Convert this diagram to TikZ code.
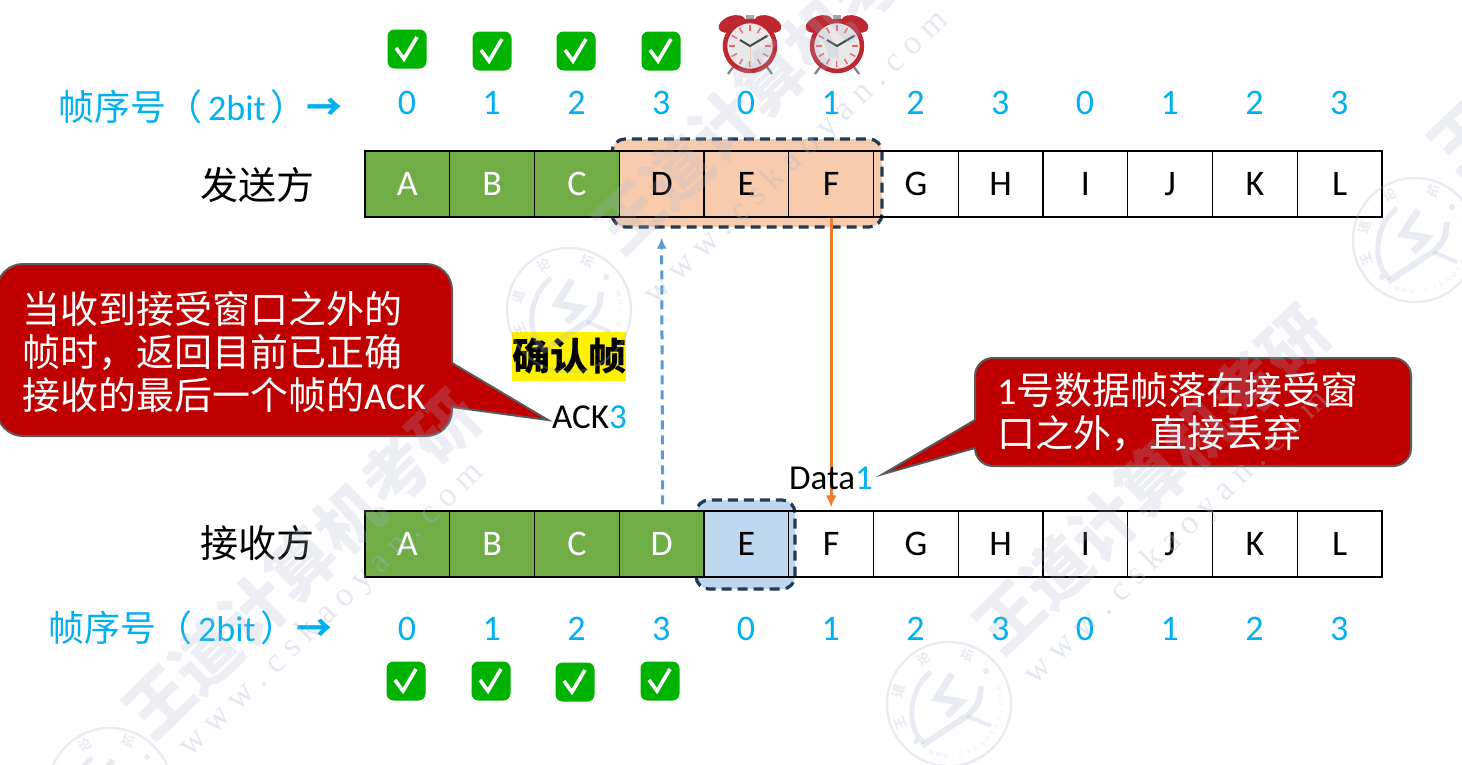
\documentclass[tikz,border=0pt]{standalone}
\usepackage{fontspec}
\setmainfont{Carlito}
\newfontfamily\cjk{Noto Sans CJK SC}
\newfontfamily\serifwm{Liberation Serif}
\usetikzlibrary{arrows.meta,calc}
\definecolor{sky}{HTML}{00B0F0}
\definecolor{cellgreen}{HTML}{70AD47}
\definecolor{winorange}{HTML}{F8CBAD}
\definecolor{winblue}{HTML}{BDD7EE}
\definecolor{windash}{HTML}{1F3B57}
\definecolor{callred}{HTML}{C00000}
\definecolor{wm}{HTML}{A9B6CE}
\definecolor{okgreen}{HTML}{00B300}
\definecolor{arroworange}{HTML}{ED7D31}
\definecolor{arrowblue}{HTML}{5B9BD5}
\definecolor{clockred}{HTML}{BE2630}
\definecolor{tickred}{HTML}{F0626A}
\newcommand{\fs}[1]{\fontsize{#1}{#1}\selectfont}
\tikzset{
  x=1pt,y=-1pt,
  cellbox/.style={draw=black,line width=1.3pt,minimum width=84.75pt,minimum height=66pt,inner sep=0pt,font=\fs{36},text=black},
  donecell/.style={cellbox,fill=cellgreen,text=white},
  digit/.style={inner sep=0pt,font=\fs{36},text=sky},
  seqlabel/.style={inner sep=0pt,anchor=west,text=sky,font=\cjk\fs{36}},
  sidelabel/.style={inner sep=0pt,font=\cjk\fs{38},text=black},
  window/.style={line width=3.2pt,draw=windash,dash pattern=on 10pt off 6pt,rounded corners=13pt},
  calloutedge/.style={draw=black!65,line width=2pt},
  callout/.style={calloutedge,fill=callred},
  calltext/.style={inner sep=0pt,anchor=west,align=left,text=white,font=\cjk\fontsize{38}{43}\selectfont},
  wmtext/.style={inner sep=0pt,anchor=west,rotate=44,text=wm,opacity=.22,font=\cjk\bfseries\fs{66}},
  wmurl/.style={inner sep=0pt,anchor=west,rotate=44,text=wm,opacity=.32,font=\serifwm\fs{34}},
  sealtext/.style={inner sep=0pt,text=wm,font=\cjk\bfseries\fs{13}},
  sealsmall/.style={inner sep=0pt,text=wm,font=\serifwm\fs{7}},
}
\newcommand{\okmark}[3]{%
  \node[name=#1,fill=okgreen,rounded corners=7pt,minimum width=39pt,minimum height=39pt,inner sep=0pt] at (#2,#3) {};
  \draw[white,line width=3.6pt] ($(#1)+(-11,-1)$) -- ($(#1)+(-3,10)$) -- ($(#1)+(10,-12)$);
}
\newcommand{\alarm}[3]{%
  \begin{scope}[shift={(#2,#3)}]
    \draw[gray,line width=2.2pt] (-17,21) -- (-22,28) (17,21) -- (22,28);
    \fill[gray!70] (-4,-31) rectangle (4,-27);
    \fill[clockred] (-18,-22) ellipse[x radius=14,y radius=8,rotate=20];
    \fill[clockred] (18,-22) ellipse[x radius=14,y radius=8,rotate=-20];
    \draw[draw=clockred,fill=black!9,line width=4.5pt] (0,0) circle[radius=25];
    \foreach \a in {0,30,...,330}{\draw[tickred,line width=1.4pt] (\a:15) -- (\a:21);}
    \draw[brown!35,line width=1pt] (0,0) -- (0,20);
    \draw[black!72,line width=2pt] (-10,-6) -- (0,0) -- (17,-10);
  \end{scope}
}
\newcommand{\seal}[3]{%
  \begin{scope}[shift={(#2,#3)},opacity=.26]
    \draw[wm,line width=2.4pt] (0,0) circle[radius=62];
    \draw[wm,line width=5pt] (-18,-32) .. controls (-45,-10) and (-40,30) .. (-25,38);
    \draw[wm,line width=7pt] (3,-30) -- (-12,-6) -- (12,-2) -- (-2,12);
    \draw[wm,line width=6pt] (-27,42) .. controls (-10,30) .. (18,12) .. controls (30,0) .. (32,-18);
    \draw[wm,line width=4pt] (18,12) -- (42,22);
    \fill[wm] (-33,37) circle[radius=3] (37,-33) circle[radius=3];
    \foreach \t/\a [count=\k] in {王/158,道/195,论/241,坛/290}
      \node[sealtext,name=#1a\k,rotate={-\a-90}] at (\a:52) {\t};
    \foreach \t [count=\k] in {W,W,W,.,C,S,K,A,O,Y,A,N,.,C,O,M}
      \node[sealsmall,name=#1b\k,rotate={90-(118.5-8.5*\k)}] at ({118.5-8.5*\k}:52) {\t};
  \end{scope}
}
\begin{document}
\begin{tikzpicture}
\useasboundingbox (0,0) rectangle (1462,764);
\fill[white] (0,0) rectangle (1462,764);

% windows
\draw[window,fill=winorange] (612,139) rectangle (882,227);
\draw[window,fill=winblue] (696,500) rectangle (795,589);

% sender cells
\foreach \n/\t in {1/A,2/B,3/C}
  \node[donecell] (s\n) at ({365+84.75*(\n-.5)},184) {\raisebox{-1pt}{\t}};
\foreach \n/\t in {4/D,5/E,6/F,7/G,8/H,9/I,10/J,11/K,12/L}
  \node[cellbox] (s\n) at ({365+84.75*(\n-.5)},184) {\raisebox{-1pt}{\t}};
% receiver cells
\foreach \n/\t in {1/A,2/B,3/C,4/D}
  \node[donecell] (r\n) at ({365+84.75*(\n-.5)},544) {\raisebox{-1pt}{\t}};
\foreach \n/\t in {5/E,6/F,7/G,8/H,9/I,10/J,11/K,12/L}
  \node[cellbox] (r\n) at ({365+84.75*(\n-.5)},544) {\raisebox{-1pt}{\t}};

% sequence numbers
\foreach \d [count=\i from 1] in {0,1,2,3,0,1,2,3,0,1,2,3}{
  \node[digit] (td\i) at ({364.5+84.75*(\i-.5)},103) {\d};
  \node[digit] (bd\i) at ({364.5+84.75*(\i-.5)},629) {\d};
}
\node[seqlabel] (tl) at (58,107) {帧序号（\hspace{6pt}{\fontspec{Carlito}2bit}\hspace{5pt}）{\bfseries →}};
\node[seqlabel] (bl) at (48,628) {帧序号（\hspace{6pt}{\fontspec{Carlito}2bit}\hspace{5pt}）{\bfseries →}};

\node[sidelabel] (sender) at (257,185) {发送方};
\node[sidelabel] (receiver) at (257,543) {接收方};

% marks
\okmark{t1}{407}{49}\okmark{t2}{492}{51}\okmark{t3}{576}{51}\okmark{t4}{661}{51}
\okmark{b1}{406}{681}\okmark{b2}{491}{681}\okmark{b3}{575}{682}\okmark{b4}{660}{681}
\alarm{ck1}{750}{46}\alarm{ck2}{837}{46}

% frame arrows
\draw[-{Latex[length=12pt,width=11pt]},arroworange,line width=3.2pt] (s6.south) -- ($(r6.north)+(0,-3)$);
\draw[-{Latex[length=11pt,width=10pt]},arrowblue,line width=3pt,dash pattern=on 9pt off 6pt] ($(r4.north)+(1,-6)$) -- ($(s4.south)+(0,20)$);

% labels
\node[inner sep=0pt,fill=yellow,minimum width=114pt,minimum height=49pt,font=\cjk\bfseries\fs{38}] (ackhead) at (569,356) {确认帧};
\node[inner sep=0pt,anchor=west,font=\fs{35}] (ack) at (552,417) {ACK\textcolor{sky}{3}};
\node[inner sep=0pt,anchor=west,font=\fs{35}] (data) at (789,478) {Data\textcolor{sky}{1}};

% callouts
\draw[callout,rounded corners=26pt] (-3,264) rectangle (452,436);
\fill[callred] (446,363) -- (452,363) -- (548,420) -- (452,407) -- (446,407) -- cycle;
\draw[calloutedge] (452,363) -- (548,420) -- (452,407);
\node[calltext] (leftnote) at (22,352) {当收到接受窗口之外的\\帧时，返回目前已正确\\接收的最后一个帧的{\fontspec{Carlito}ACK}};
\draw[callout,rounded corners=18pt] (975,358) rectangle (1411,466);
\fill[callred] (981,420) -- (975,420) -- (883,474) -- (975,448) -- (981,448) -- cycle;
\draw[calloutedge] (975,420) -- (883,474) -- (975,448);
\node[calltext] (rightnote) at (997,412) {{\fontspec{Carlito}1}号数据帧落在接受窗\\口之外，直接丢弃};

% watermark
\node[wmtext] (w1) at (135,725) {王道计算机考研};
\node[wmtext] (w2) at (605,240) {王道计算机考研};
\node[wmtext] (w3) at (985,640) {王道计算机考研};
\node[wmtext] (w4) at (1440,160) {王道计算机考研};
\node[wmurl] (u1) at (185,752) {w w w . c s k a o y a n . c o m};
\node[wmurl] (u2) at (650,300) {w w w . c s k a o y a n . c o m};
\node[wmurl] (u3) at (1030,680) {w w w . c s k a o y a n . c o m};
\seal{se1}{569}{310}\seal{se2}{1415}{240}\seal{se3}{949}{704}\seal{se4}{110}{790}
\end{tikzpicture}
\end{document}
